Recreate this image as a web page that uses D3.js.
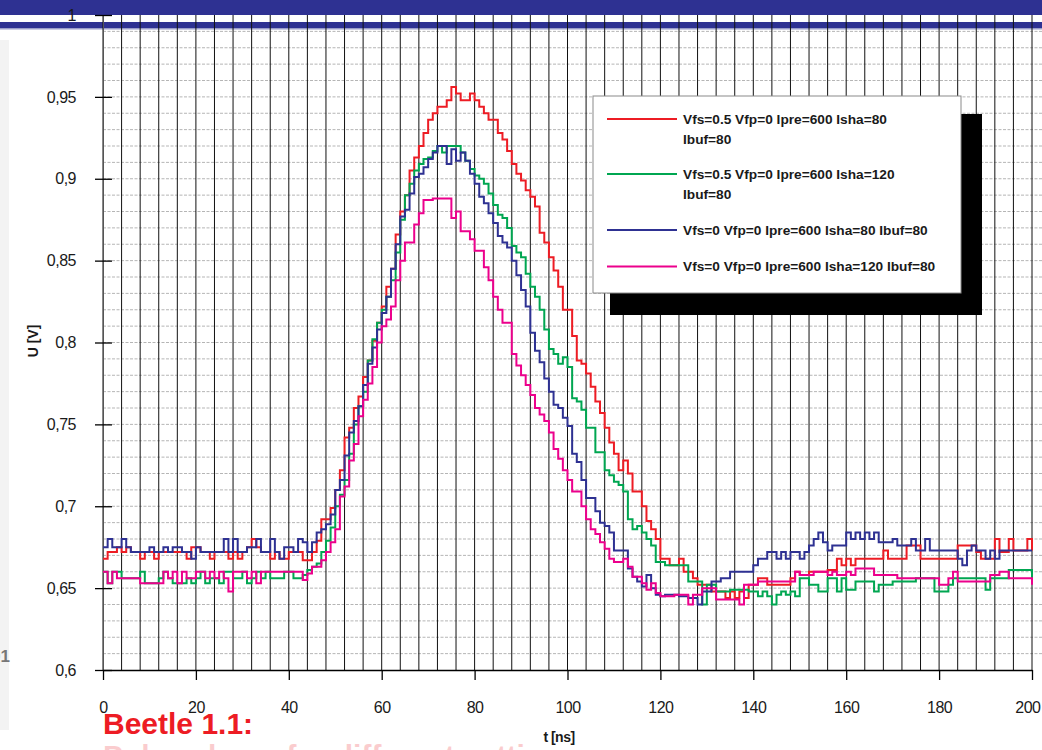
<!DOCTYPE html>
<html>
<head>
<meta charset="utf-8">
<script src="https://cdn.jsdelivr.net/npm/d3@7"></script>
<style>
  html, body { margin: 0; padding: 0; background: #fff; }
  svg { display: block; font-family: "Liberation Sans", Arial, Helvetica, sans-serif; }
</style>
</head>
<body>
<svg id="chart" width="1042" height="750"></svg>
<script>
// Sample times of the scope traces [ns], one sample per ns
const timeNs = d3.range(0, 201);

// Vfs=0.5 Vfp=0 Ipre=600 Isha=80 Ibuf=80  [V]
const vfs05Isha80 = [
  0.668, 0.672, 0.672, 0.675, 0.672, 0.675, 0.672, 0.672, 0.668, 0.672,
  0.672, 0.668, 0.672, 0.672, 0.672, 0.672, 0.672, 0.672, 0.668, 0.675,
  0.675, 0.672, 0.672, 0.668, 0.672, 0.672, 0.672, 0.668, 0.672, 0.668,
  0.672, 0.675, 0.680, 0.675, 0.672, 0.672, 0.668, 0.672, 0.668, 0.668,
  0.672, 0.672, 0.672, 0.667, 0.667, 0.672, 0.679, 0.692, 0.692, 0.699,
  0.710, 0.722, 0.742, 0.748, 0.760, 0.767, 0.779, 0.789, 0.801, 0.812,
  0.822, 0.834, 0.845, 0.866, 0.880, 0.890, 0.905, 0.913, 0.920, 0.928,
  0.936, 0.940, 0.944, 0.944, 0.948, 0.956, 0.952, 0.948, 0.948, 0.952,
  0.948, 0.944, 0.940, 0.936, 0.936, 0.928, 0.924, 0.917, 0.909, 0.903,
  0.899, 0.893, 0.889, 0.883, 0.867, 0.861, 0.852, 0.844, 0.834, 0.820,
  0.820, 0.804, 0.789, 0.787, 0.781, 0.773, 0.764, 0.757, 0.748, 0.739,
  0.732, 0.722, 0.728, 0.720, 0.709, 0.709, 0.700, 0.691, 0.686, 0.680,
  0.668, 0.668, 0.664, 0.664, 0.668, 0.660, 0.660, 0.656, 0.652, 0.652,
  0.652, 0.648, 0.648, 0.648, 0.644, 0.648, 0.644, 0.648, 0.644, 0.652,
  0.652, 0.656, 0.656, 0.652, 0.652, 0.652, 0.652, 0.652, 0.656, 0.660,
  0.658, 0.658, 0.660, 0.660, 0.660, 0.660, 0.661, 0.661, 0.668, 0.664,
  0.668, 0.664, 0.668, 0.668, 0.668, 0.668, 0.668, 0.668, 0.673, 0.668,
  0.668, 0.668, 0.668, 0.676, 0.676, 0.676, 0.668, 0.668, 0.668, 0.668,
  0.668, 0.668, 0.668, 0.668, 0.676, 0.676, 0.676, 0.676, 0.672, 0.668,
  0.668, 0.668, 0.680, 0.672, 0.672, 0.680, 0.673, 0.673, 0.673, 0.680,
  0.673
];

// Vfs=0.5 Vfp=0 Ipre=600 Isha=120 Ibuf=80  [V]
const vfs05Isha120 = [
  0.660, 0.653, 0.660, 0.660, 0.656, 0.656, 0.656, 0.656, 0.660, 0.653,
  0.653, 0.653, 0.656, 0.660, 0.656, 0.653, 0.653, 0.653, 0.656, 0.653,
  0.656, 0.660, 0.653, 0.656, 0.656, 0.653, 0.660, 0.660, 0.656, 0.656,
  0.660, 0.653, 0.656, 0.660, 0.656, 0.660, 0.656, 0.656, 0.656, 0.660,
  0.660, 0.656, 0.656, 0.658, 0.661, 0.663, 0.665, 0.672, 0.679, 0.687,
  0.700, 0.707, 0.716, 0.732, 0.750, 0.761, 0.770, 0.789, 0.802, 0.812,
  0.820, 0.828, 0.838, 0.855, 0.875, 0.890, 0.897, 0.905, 0.909, 0.912,
  0.913, 0.917, 0.920, 0.916, 0.920, 0.920, 0.920, 0.916, 0.911, 0.906,
  0.902, 0.900, 0.897, 0.891, 0.884, 0.878, 0.876, 0.870, 0.859, 0.855,
  0.852, 0.842, 0.834, 0.828, 0.820, 0.808, 0.796, 0.793, 0.787, 0.791,
  0.785, 0.766, 0.764, 0.759, 0.748, 0.748, 0.733, 0.733, 0.722, 0.719,
  0.715, 0.713, 0.709, 0.692, 0.686, 0.688, 0.684, 0.680, 0.676, 0.666,
  0.666, 0.664, 0.664, 0.664, 0.664, 0.664, 0.654, 0.654, 0.654, 0.640,
  0.652, 0.652, 0.648, 0.648, 0.648, 0.649, 0.649, 0.649, 0.649, 0.648,
  0.648, 0.645, 0.648, 0.645, 0.640, 0.646, 0.648, 0.646, 0.648, 0.645,
  0.656, 0.656, 0.652, 0.652, 0.648, 0.648, 0.656, 0.656, 0.648, 0.656,
  0.649, 0.649, 0.654, 0.654, 0.654, 0.654, 0.648, 0.652, 0.652, 0.652,
  0.654, 0.654, 0.654, 0.654, 0.654, 0.656, 0.656, 0.656, 0.656, 0.648,
  0.648, 0.648, 0.652, 0.656, 0.656, 0.656, 0.656, 0.656, 0.656, 0.656,
  0.649, 0.656, 0.656, 0.656, 0.656, 0.661, 0.661, 0.661, 0.661, 0.661,
  0.656
];

// Vfs=0 Vfp=0 Ipre=600 Isha=80 Ibuf=80  [V]
const vfs0Isha80 = [
  0.675, 0.680, 0.675, 0.675, 0.680, 0.675, 0.672, 0.672, 0.672, 0.672,
  0.675, 0.672, 0.672, 0.675, 0.672, 0.675, 0.675, 0.672, 0.672, 0.668,
  0.675, 0.672, 0.672, 0.672, 0.672, 0.672, 0.680, 0.672, 0.680, 0.672,
  0.672, 0.675, 0.675, 0.680, 0.672, 0.672, 0.680, 0.672, 0.668, 0.675,
  0.675, 0.672, 0.680, 0.678, 0.672, 0.678, 0.684, 0.686, 0.689, 0.695,
  0.710, 0.716, 0.731, 0.745, 0.752, 0.761, 0.774, 0.787, 0.797, 0.808,
  0.818, 0.828, 0.845, 0.860, 0.877, 0.881, 0.891, 0.901, 0.903, 0.907,
  0.912, 0.916, 0.920, 0.920, 0.909, 0.918, 0.911, 0.916, 0.911, 0.903,
  0.897, 0.889, 0.885, 0.879, 0.873, 0.865, 0.861, 0.858, 0.850, 0.841,
  0.832, 0.822, 0.806, 0.795, 0.788, 0.778, 0.770, 0.762, 0.760, 0.754,
  0.749, 0.732, 0.727, 0.716, 0.705, 0.705, 0.697, 0.690, 0.688, 0.684,
  0.673, 0.673, 0.673, 0.662, 0.657, 0.654, 0.651, 0.658, 0.650, 0.646,
  0.645, 0.646, 0.646, 0.646, 0.645, 0.645, 0.644, 0.644, 0.640, 0.648,
  0.648, 0.654, 0.654, 0.656, 0.656, 0.660, 0.660, 0.660, 0.660, 0.660,
  0.664, 0.668, 0.668, 0.672, 0.672, 0.668, 0.672, 0.668, 0.672, 0.672,
  0.668, 0.672, 0.676, 0.680, 0.684, 0.678, 0.673, 0.676, 0.676, 0.676,
  0.684, 0.680, 0.684, 0.680, 0.684, 0.680, 0.684, 0.678, 0.678, 0.678,
  0.680, 0.676, 0.676, 0.676, 0.680, 0.673, 0.673, 0.680, 0.673, 0.673,
  0.673, 0.673, 0.673, 0.673, 0.668, 0.664, 0.673, 0.676, 0.673, 0.673,
  0.668, 0.673, 0.668, 0.673, 0.673, 0.673, 0.673, 0.673, 0.673, 0.673,
  0.673
];

// Vfs=0 Vfp=0 Ipre=600 Isha=120 Ibuf=80  [V]
const vfs0Isha120 = [
  0.660, 0.653, 0.660, 0.656, 0.656, 0.656, 0.656, 0.656, 0.653, 0.653,
  0.653, 0.653, 0.653, 0.660, 0.656, 0.660, 0.653, 0.660, 0.656, 0.656,
  0.660, 0.660, 0.656, 0.660, 0.656, 0.660, 0.656, 0.648, 0.660, 0.660,
  0.660, 0.656, 0.660, 0.653, 0.660, 0.660, 0.660, 0.660, 0.660, 0.660,
  0.660, 0.660, 0.660, 0.655, 0.659, 0.663, 0.663, 0.667, 0.672, 0.678,
  0.686, 0.706, 0.712, 0.728, 0.738, 0.755, 0.765, 0.775, 0.785, 0.800,
  0.810, 0.814, 0.822, 0.838, 0.850, 0.861, 0.861, 0.872, 0.879, 0.887,
  0.887, 0.888, 0.888, 0.888, 0.888, 0.876, 0.880, 0.868, 0.868, 0.863,
  0.856, 0.856, 0.846, 0.838, 0.828, 0.820, 0.812, 0.812, 0.793, 0.786,
  0.780, 0.774, 0.768, 0.760, 0.756, 0.752, 0.745, 0.735, 0.729, 0.722,
  0.716, 0.709, 0.709, 0.700, 0.692, 0.686, 0.683, 0.678, 0.674, 0.668,
  0.666, 0.666, 0.668, 0.663, 0.657, 0.657, 0.653, 0.649, 0.653, 0.647,
  0.645, 0.645, 0.645, 0.646, 0.646, 0.646, 0.640, 0.646, 0.646, 0.650,
  0.650, 0.650, 0.643, 0.643, 0.643, 0.643, 0.643, 0.640, 0.652, 0.652,
  0.652, 0.654, 0.654, 0.654, 0.654, 0.654, 0.654, 0.654, 0.654, 0.660,
  0.658, 0.658, 0.658, 0.660, 0.660, 0.660, 0.658, 0.660, 0.658, 0.658,
  0.660, 0.658, 0.662, 0.662, 0.662, 0.662, 0.658, 0.658, 0.658, 0.658,
  0.658, 0.656, 0.656, 0.656, 0.656, 0.656, 0.656, 0.656, 0.656, 0.656,
  0.652, 0.652, 0.656, 0.660, 0.654, 0.654, 0.654, 0.654, 0.654, 0.654,
  0.654, 0.658, 0.658, 0.660, 0.660, 0.656, 0.656, 0.656, 0.656, 0.656,
  0.652
];

// Legend texts (each entry may wrap onto two lines) and trace colours
const legendLabels = [
  ["Vfs=0.5 Vfp=0 Ipre=600 Isha=80", "Ibuf=80"],
  ["Vfs=0.5 Vfp=0 Ipre=600 Isha=120", "Ibuf=80"],
  ["Vfs=0 Vfp=0 Ipre=600 Isha=80 Ibuf=80"],
  ["Vfs=0 Vfp=0 Ipre=600 Isha=120 Ibuf=80"]
];
const seriesColors = ["#ED1C24", "#00A651", "#2E3192", "#EC008C"];
const seriesValues = [vfs05Isha80, vfs05Isha120, vfs0Isha80, vfs0Isha120];

// Axis ticks
const xTickValues = [0, 20, 40, 60, 80, 100, 120, 140, 160, 180, 200];
const yTickValues = [0.6, 0.65, 0.7, 0.75, 0.8, 0.85, 0.9, 0.95, 1];
const yTickLabels = ["0,6", "0,65", "0,7", "0,75", "0,8", "0,85", "0,9", "0,95", "1"];

const svg = d3.select("#chart");
const W = 1042;

const x = d3.scaleLinear().domain([0, 200]).range([103, 1032]);
const y = d3.scaleLinear().domain([0.6, 1]).range([670, 15]);

// Slide header bars
svg.append("rect").attr("x", 0).attr("y", 0).attr("width", W).attr("height", 15).attr("fill", "#2E3192");
svg.append("rect").attr("x", 0).attr("y", 22).attr("width", W).attr("height", 6).attr("fill", "#2E3192");
svg.append("rect").attr("x", 0).attr("y", 28).attr("width", W).attr("height", 1.5).attr("fill", "#9a9cc9");

// Faint slide strip along the left edge
svg.append("rect").attr("x", 0).attr("y", 40).attr("width", 9).attr("height", 690).attr("fill", "#f3f3f3");
svg.append("text").attr("x", 10).attr("y", 662).attr("text-anchor", "end")
  .attr("font-size", 17).attr("font-weight", "bold").attr("fill", "#777").text("01");

// Horizontal dotted grid every 0.01 V
const gridY = d3.range(61, 100).map(k => k / 100);
svg.append("g").selectAll("line").data(gridY).join("line")
  .attr("x1", x(0)).attr("x2", W)
  .attr("y1", d => y(d)).attr("y2", d => y(d))
  .attr("stroke", "#b5b5b5").attr("stroke-width", 1).attr("stroke-dasharray", "3,1.5");

// Vertical grid every 4 ns
const gridX = d3.range(0, 201, 4);
svg.append("g").selectAll("line").data(gridX).join("line")
  .attr("x1", d => x(d)).attr("x2", d => x(d))
  .attr("y1", y(1)).attr("y2", y(0.6))
  .attr("stroke", "#111").attr("stroke-width", 1);

// Y axis: ticks cross the axis line
const gy = svg.append("g").attr("transform", `translate(${x(0)},0)`)
  .call(d3.axisLeft(y).tickValues(yTickValues)
    .tickFormat((d, i) => yTickLabels[i]).tickSize(8).tickSizeOuter(0).tickPadding(19));
gy.attr("font-family", null).attr("font-size", null);
gy.select(".domain").attr("stroke", "#555");
gy.selectAll(".tick line").attr("x1", 9).attr("x2", -8).attr("stroke", "#000").attr("stroke-width", 1.3);
gy.selectAll(".tick text").attr("font-size", 16).attr("fill", "#1a1a1a").attr("letter-spacing", "-0.5px");

// X axis along the bottom of the plot
const gx = svg.append("g").attr("transform", `translate(0,${y(0.6)})`)
  .call(d3.axisBottom(x).tickValues(xTickValues).tickSize(10).tickSizeOuter(0).tickPadding(22));
gx.attr("font-family", null).attr("font-size", null);
gx.select(".domain").attr("stroke", "#000").attr("stroke-width", 1.3);
gx.selectAll(".tick line").attr("stroke", "#000").attr("stroke-width", 1.3);
gx.selectAll(".tick text").attr("font-size", 16).attr("fill", "#1a1a1a").attr("letter-spacing", "-0.5px");
// keep the last label inside the page edge
gx.selectAll(".tick text").filter(d => d === 200)
  .attr("text-anchor", "end").attr("x", W - 1032 - 2);

// Axis titles
svg.append("text").attr("transform", `translate(38,341) rotate(-90)`)
  .attr("text-anchor", "middle").attr("font-size", 14).attr("font-weight", "bold")
  .attr("fill", "#1a1a1a").text("U [V]");
svg.append("text").attr("x", 559).attr("y", 742)
  .attr("text-anchor", "middle").attr("font-size", 14).attr("font-weight", "bold")
  .attr("fill", "#1a1a1a").attr("letter-spacing", "-0.5px").text("t [ns]");

// Traces
const line = d3.line()
  .x((d, i) => x(timeNs[i]))
  .y(d => y(d))
  .curve(d3.curveStepAfter);
svg.append("g").selectAll("path").data(seriesValues).join("path")
  .attr("d", d => line(d))
  .attr("fill", "none")
  .attr("stroke", (d, i) => seriesColors[i])
  .attr("stroke-width", 2)
  .attr("stroke-linejoin", "miter");

// Legend with drop shadow
const lg = svg.append("g");
lg.append("rect").attr("x", 610).attr("y", 114).attr("width", 372).attr("height", 201).attr("fill", "#000");
lg.append("rect").attr("x", 593).attr("y", 96).attr("width", 368).attr("height", 197)
  .attr("fill", "#fff").attr("stroke", "#8a8a8a").attr("stroke-width", 1);
const legendRowY = [119, 174, 230, 266.5];
legendLabels.forEach((lines, i) => {
  const cy = legendRowY[i];
  lg.append("line").attr("x1", 607).attr("x2", 677).attr("y1", cy).attr("y2", cy)
    .attr("stroke", seriesColors[i]).attr("stroke-width", 2.2);
  lines.forEach((t, j) => {
    lg.append("text").attr("x", 683).attr("y", cy + 4.8 + j * 20)
      .attr("font-size", 13.7).attr("font-weight", "bold").attr("fill", "#1a1a1a").text(t);
  });
});

// Slide caption below the chart
svg.append("text").attr("x", 103).attr("y", 734)
  .attr("font-size", 30).attr("font-weight", "bold").attr("fill", "#ED1C24").text("Beetle 1.1:");
svg.append("text").attr("x", 103).attr("y", 766)
  .attr("font-size", 30).attr("font-weight", "bold").attr("fill", "#ED1C24").attr("opacity", 0.22)
  .text("Pulse shape for different settings");
</script>
</body>
</html>
